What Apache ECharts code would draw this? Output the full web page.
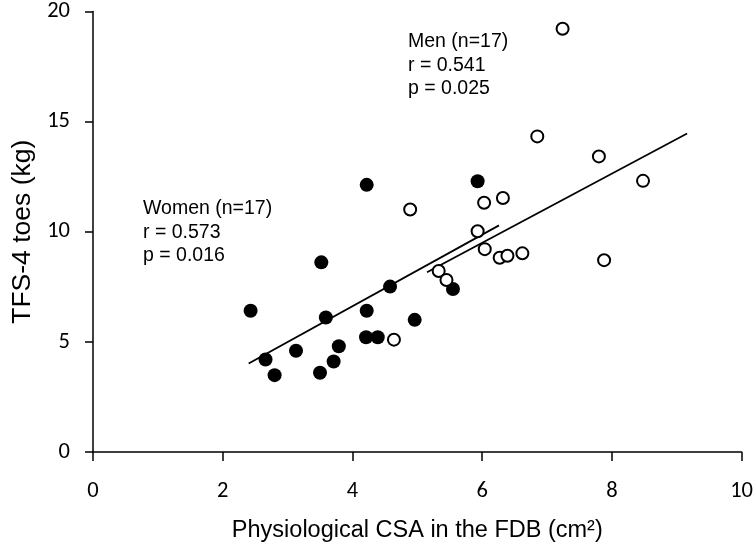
<!DOCTYPE html>
<html><head><meta charset="utf-8">
<script src="https://cdn.jsdelivr.net/npm/echarts@6/dist/echarts.min.js"></script>
<style>html,body{margin:0;padding:0;background:#fff}#c{width:756px;height:548px}</style>
</head><body><div id="c"></div>
<script>
// Women (filled circles)
const womenX = [2.43, 2.66, 2.80, 3.13, 3.52, 3.50, 3.59, 3.71, 3.79, 4.22, 4.22, 4.21, 4.39, 4.58, 4.96, 5.55, 5.93];
const womenY = [6.41, 4.20, 3.49, 4.60, 8.61, 3.60, 6.11, 4.11, 4.80, 12.13, 6.41, 5.21, 5.21, 7.51, 6.00, 7.40, 12.29];
// Men (open circles)
const menX = [4.64, 4.89, 5.33, 5.45, 5.93, 6.03, 6.32, 6.04, 6.27, 6.39, 6.62, 7.24, 6.85, 7.80, 8.48, 7.88];
const menY = [5.10, 11.01, 8.22, 7.81, 10.02, 11.32, 11.53, 9.21, 8.82, 8.91, 9.02, 19.22, 14.33, 13.42, 12.31, 8.71];
// Regression line end points
const womenLineX = [2.40, 6.26];
const womenLineY = [4.02, 10.29];
const menLineX = [5.15, 9.16];
const menLineY = [8.16, 14.46];
// Axis ticks
const xTicks = [0, 2, 4, 6, 8, 10];
const yTicks = [0, 5, 10, 15, 20];
// Texts
const xTitle = 'Physiological CSA in the FDB (cm²)';
const yTitle = 'TFS-4 toes (kg)';
const womenText = ['Women (n=17)', 'r = 0.573', 'p = 0.016'];
const menText = ['Men (n=17)', 'r = 0.541', 'p = 0.025'];

const tickFont = "Carlito, Lato, sans-serif";
const annFont = "'Liberation Sans', Arial, sans-serif";

const chart = echarts.init(document.getElementById('c'), null, {renderer: 'canvas'});
const zip = (a, b) => a.map((v, i) => [v, b[i]]);

chart.setOption({
  animation: false,
  backgroundColor: '#fff',
  grid: {left: 93, right: 13, top: 10, bottom: 95, containLabel: false},
  xAxis: {
    type: 'value', min: xTicks[0], max: xTicks[xTicks.length - 1], interval: xTicks[1] - xTicks[0],
    axisLine: {show: true, onZero: false, lineStyle: {color: '#000', width: 1.5}},
    axisTick: {show: true, inside: false, length: 9, lineStyle: {color: '#000', width: 1.5}},
    splitLine: {show: false},
    axisLabel: {color: '#000', fontSize: 22.5, fontFamily: tickFont, margin: 28},
    name: xTitle, nameLocation: 'middle', nameGap: 67,
    nameTextStyle: {color: '#000', fontSize: 23.5, fontFamily: annFont}
  },
  yAxis: {
    type: 'value', min: yTicks[0], max: yTicks[yTicks.length - 1], interval: yTicks[1] - yTicks[0],
    axisLine: {show: true, onZero: false, lineStyle: {color: '#000', width: 1.5}},
    axisTick: {show: true, inside: false, length: 8, lineStyle: {color: '#000', width: 1.5}},
    splitLine: {show: false},
    axisLabel: {color: '#000', fontSize: 22.5, fontFamily: tickFont, margin: 23},
    name: yTitle, nameLocation: 'middle', nameGap: 55, nameRotate: 90,
    nameTextStyle: {color: '#000', fontSize: 26.5, fontFamily: annFont}
  },
  series: [
    {type: 'line', data: zip(womenLineX, womenLineY), symbol: 'none', z: 2,
     lineStyle: {color: '#000', width: 1.8}},
    {type: 'line', data: zip(menLineX, menLineY), symbol: 'none', z: 2,
     lineStyle: {color: '#000', width: 1.8}},
    {type: 'scatter', data: zip(womenX, womenY), symbol: 'circle', symbolSize: 14, z: 3,
     itemStyle: {color: '#000', opacity: 1}},
    {type: 'scatter', data: zip(menX, menY), symbol: 'circle', symbolSize: 12, z: 3,
     itemStyle: {color: '#fff', borderColor: '#000', borderWidth: 2, opacity: 1}}
  ],
  graphic: [
    {type: 'text', left: 143, top: 197, z: 10,
     style: {text: womenText.join('\n'), fontSize: 19.5, fontFamily: annFont, lineHeight: 23.5, fill: '#000'}},
    {type: 'text', left: 408, top: 30, z: 10,
     style: {text: menText.join('\n'), fontSize: 19.5, fontFamily: annFont, lineHeight: 23.5, fill: '#000'}}
  ]
});
</script>
</body></html>
